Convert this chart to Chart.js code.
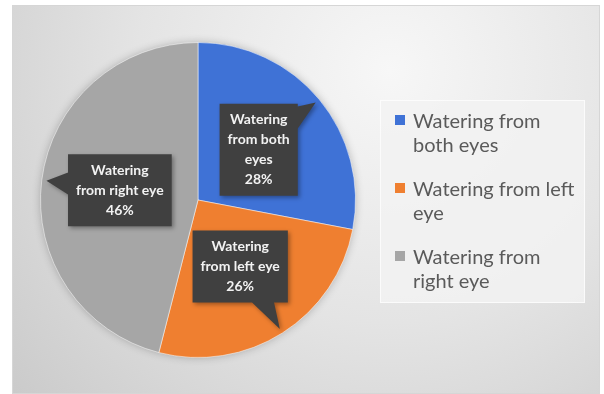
<!DOCTYPE html>
<html>
<head>
<meta charset="utf-8">
<script src="https://cdn.jsdelivr.net/npm/chart.js@4.4.1/dist/chart.umd.min.js"></script>
<style>
  html, body { margin: 0; padding: 0; background: #fff; }
  canvas { display: block; }
</style>
</head>
<body>
<canvas id="eyeChart" width="604" height="394"></canvas>
<script>
// watering complaints, share of patients (%)
const labels = ['Watering from both eyes', 'Watering from left eye', 'Watering from right eye'];
const values = [28, 26, 46];
const sliceColors = ['#3F72D6', '#EF7F30', '#A6A6A6'];
const calloutLines = [['Watering', 'from both', 'eyes'], ['Watering', 'from left eye'], ['Watering', 'from right eye']];
const legendLines = [['Watering from', 'both eyes'], ['Watering from left', 'eye'], ['Watering from', 'right eye']];

// gradient panel behind the chart
const panelBg = {
    id: 'panelBg',
    beforeDraw(chart) {
        const ctx = chart.ctx;
        ctx.save();
        ctx.fillStyle = '#fff';
        ctx.fillRect(0, 0, chart.width, chart.height);
        const g = ctx.createRadialGradient(390, 70, 0, 390, 70, 560);
        g.addColorStop(0, '#f7f7f7');
        g.addColorStop(0.45, '#e4e4e4');
        g.addColorStop(1, '#c4c4c4');
        ctx.fillStyle = g;
        ctx.fillRect(12, 5, 588, 389);
        ctx.strokeStyle = '#d6d6d6';
        ctx.strokeRect(12.5, 5.5, 587, 388);
        ctx.restore();
    }
};

// soft shadow under the pie
const pieShadow = {
    id: 'pieShadow',
    beforeDatasetsDraw(chart) {
        const arc = chart.getDatasetMeta(0).data[0];
        const ctx = chart.ctx;
        ctx.save();
        ctx.shadowColor = 'rgba(0,0,0,0.3)';
        ctx.shadowBlur = 10;
        ctx.fillStyle = '#a6a6a6';
        ctx.beginPath();
        ctx.arc(arc.x, arc.y, arc.outerRadius - 1, 0, Math.PI * 2);
        ctx.fill();
        ctx.restore();
    }
};

// dark callout boxes with a pointer toward the slice edge
const callouts = {
    id: 'callouts',
    afterDatasetsDraw(chart) {
        const ctx = chart.ctx;
        const data = chart.data.datasets[0].data;
        const total = data.reduce((a, b) => a + b, 0);
        const lineH = 20;
        const font = 'bold 14px Lato';
        chart.getDatasetMeta(0).data.forEach((arc, i) => {
            const mid = (arc.startAngle + arc.endAngle) / 2;
            const dx = Math.cos(mid), dy = Math.sin(mid);
            const cx = arc.x + dx * arc.outerRadius * 0.5;
            const cy = arc.y + dy * arc.outerRadius * 0.5;
            const tipX = arc.x + dx * arc.outerRadius * 0.97;
            const tipY = arc.y + dy * arc.outerRadius * 0.97;

            const lines = calloutLines[i].concat([Math.round(data[i] / total * 100) + '%']);
            ctx.font = font;
            const textW = Math.max(...lines.map(l => ctx.measureText(l).width));
            const w = textW + 16;
            const h = lines.length * lineH + 12;
            const x0 = cx - w / 2, y0 = cy - h / 2;

            // where the pointer leaves the box
            const vx = tipX - cx, vy = tipY - cy;
            const tx = (w / 2) / Math.abs(vx), ty = (h / 2) / Math.abs(vy);
            let b1, b2;
            if (tx < ty) {
                const ex = cx + vx * tx, ey = cy + vy * tx;
                const ya = Math.max(y0, ey - 11), yb = Math.min(y0 + h, ey + 11);
                b1 = [ex, ya]; b2 = [ex, yb];
            } else {
                const ex = cx + vx * ty, ey = cy + vy * ty;
                const xa = Math.max(x0, ex - 11), xb = Math.min(x0 + w, ex + 11);
                b1 = [xa, ey]; b2 = [xb, ey];
            }

            ctx.save();
            ctx.shadowColor = 'rgba(0,0,0,0.35)';
            ctx.shadowBlur = 4;
            ctx.shadowOffsetX = 2;
            ctx.shadowOffsetY = 2;
            ctx.fillStyle = '#404040';
            ctx.beginPath();
            ctx.rect(x0, y0, w, h);
            ctx.moveTo(b1[0], b1[1]);
            ctx.lineTo(tipX, tipY);
            ctx.lineTo(b2[0], b2[1]);
            ctx.closePath();
            ctx.fill('nonzero');
            ctx.restore();

            ctx.save();
            ctx.fillStyle = '#f2f2f2';
            ctx.textAlign = 'center';
            ctx.textBaseline = 'middle';
            ctx.font = font;
            const top = cy - (lines.length - 1) * lineH / 2;
            lines.forEach((l, k) => ctx.fillText(l, cx, top + k * lineH));
            ctx.restore();
        });
    }
};

// legend box on the right, wrapped over two lines per entry
const sideLegend = {
    id: 'sideLegend',
    afterDraw(chart) {
        const ctx = chart.ctx;
        ctx.save();
        ctx.fillStyle = 'rgba(242,242,242,0.85)';
        ctx.fillRect(380, 100, 205, 203);
        ctx.strokeStyle = 'rgba(255,255,255,0.7)';
        ctx.strokeRect(380.5, 100.5, 204, 202);
        ctx.font = '20px Lato';
        ctx.textBaseline = 'alphabetic';
        ctx.textAlign = 'left';
        legendLines.forEach((lines, i) => {
            const base = 128 + i * 68;
            ctx.fillStyle = sliceColors[i];
            ctx.fillRect(395, base - 13, 10, 10);
            ctx.fillStyle = '#5a5a5a';
            lines.forEach((l, k) => ctx.fillText(l, 413, base + k * 24));
        });
        ctx.restore();
    }
};

new Chart(document.getElementById('eyeChart'), {
    type: 'pie',
    data: {
        labels: labels,
        datasets: [{
            data: values,
            backgroundColor: sliceColors,
            borderColor: 'rgba(255,255,255,0.5)',
            borderWidth: 1
        }]
    },
    options: {
        responsive: false,
        animation: false,
        devicePixelRatio: 1,
        layout: { padding: { left: 40, right: 248, top: 42, bottom: 36 } },
        plugins: {
            legend: { display: false },
            tooltip: { enabled: false }
        }
    },
    plugins: [panelBg, pieShadow, callouts, sideLegend]
});
</script>
</body>
</html>
